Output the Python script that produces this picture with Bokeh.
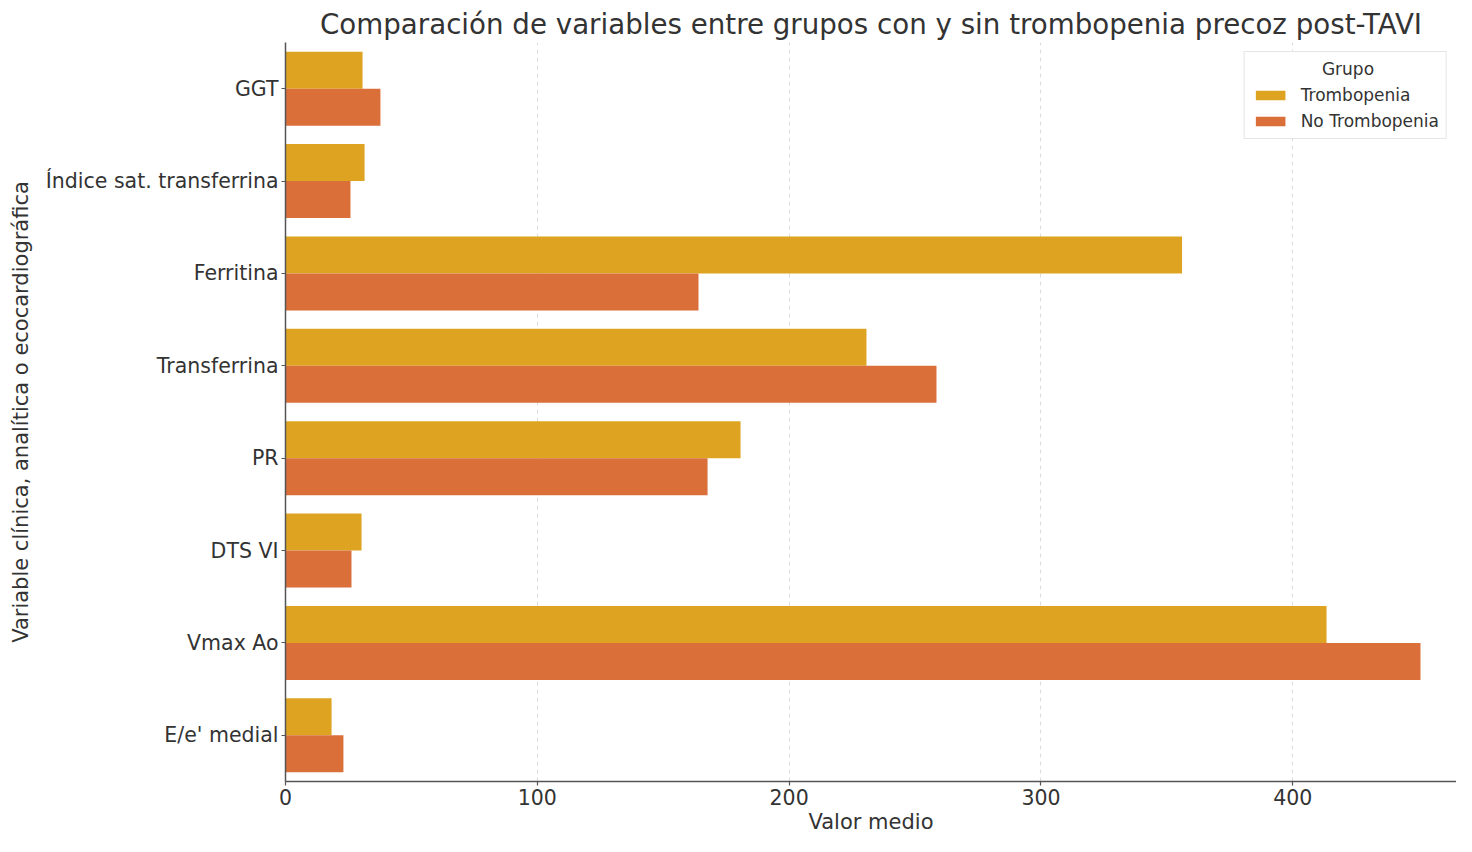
from bokeh.plotting import figure
from bokeh.models import FactorRange, ColumnDataSource, Range1d, Legend, LegendItem
from bokeh.transform import dodge
from bokeh.embed import file_html
from bokeh.resources import INLINE

categories = ["GGT", "Índice sat. transferrina", "Ferritina", "Transferrina",
              "PR", "DTS VI", "Vmax Ao", "E/e' medial"]
trombopenia = [30.6, 31.4, 356.0, 230.7, 180.7, 30.2, 413.4, 18.3]
no_trombopenia = [37.7, 25.8, 164.0, 258.5, 167.6, 26.2, 450.7, 23.0]
x_ticks = [0, 100, 200, 300, 400]

FONT = "DejaVu Sans"
TXT = "#333333"
AX = "#555555"

src = ColumnDataSource(dict(cat=categories, t=trombopenia, n=no_trombopenia))

p = figure(width=1456, height=836, output_backend="svg", toolbar_location=None,
           y_range=FactorRange(factors=list(reversed(categories))),
           x_range=Range1d(0, 465.0),
           min_border_left=285, min_border_right=0, min_border_top=42, min_border_bottom=48,
           title="Comparación de variables entre grupos con y sin trombopenia precoz post-TAVI")

p.title.align = "center"
p.title.text_font = FONT
p.title.text_font_size = "27.7px"
p.title.text_font_style = "normal"
p.title.text_color = TXT
p.title.standoff = 4

r1 = p.hbar(y=dodge("cat", 0.2, range=p.y_range), right="t", left=0, height=0.4,
            source=src, fill_color="#DEA421", line_color=None)
r2 = p.hbar(y=dodge("cat", -0.2, range=p.y_range), right="n", left=0, height=0.4,
            source=src, fill_color="#DA6F3A", line_color=None)

p.outline_line_color = None
p.ygrid.grid_line_color = None
p.xgrid.grid_line_color = "#dddddd"
p.xgrid.grid_line_dash = "4 4"
p.xgrid.ticker = x_ticks
p.xaxis.ticker = x_ticks

for ax in (p.xaxis[0], p.yaxis[0]):
    ax.axis_line_color = AX
    ax.axis_line_width = 1.5
    ax.major_tick_line_color = AX
    ax.major_tick_line_width = 1.2
    ax.major_tick_out = 4
    ax.major_tick_in = 0
    ax.minor_tick_line_color = None
    ax.major_label_text_font = FONT
    ax.major_label_text_font_size = "20.5px"
    ax.major_label_text_color = TXT
    ax.axis_label_text_font = FONT
    ax.axis_label_text_font_size = "21px"
    ax.axis_label_text_font_style = "normal"
    ax.axis_label_text_color = TXT

p.xaxis.axis_label = "Valor medio"
p.xaxis.axis_label_standoff = 2
p.xaxis.major_label_standoff = 3
p.yaxis.axis_label = "Variable clínica, analítica o ecocardiográfica"
p.yaxis.major_label_standoff = 3
p.yaxis.axis_label_standoff = 10

legend = Legend(items=[LegendItem(label="Trombopenia", renderers=[r1]),
                       LegendItem(label="No Trombopenia", renderers=[r2])],
                location="top_right", title="\u00a0" * 13 + "Grupo")
legend.title_text_font = FONT
legend.title_text_font_size = "17px"
legend.title_text_font_style = "normal"
legend.title_text_color = TXT
legend.title_standoff = 6
legend.label_text_font = FONT
legend.label_text_font_size = "17px"
legend.label_text_color = TXT
legend.label_height = 20
legend.glyph_width = 37
legend.glyph_height = 12
legend.label_standoff = 12
legend.spacing = 6
legend.padding = 7
legend.margin = 9
legend.border_line_color = "#cccccc"
legend.border_line_width = 1
legend.background_fill_alpha = 0.9
p.add_layout(legend)

open("out.html", "w").write(file_html(p, INLINE))
